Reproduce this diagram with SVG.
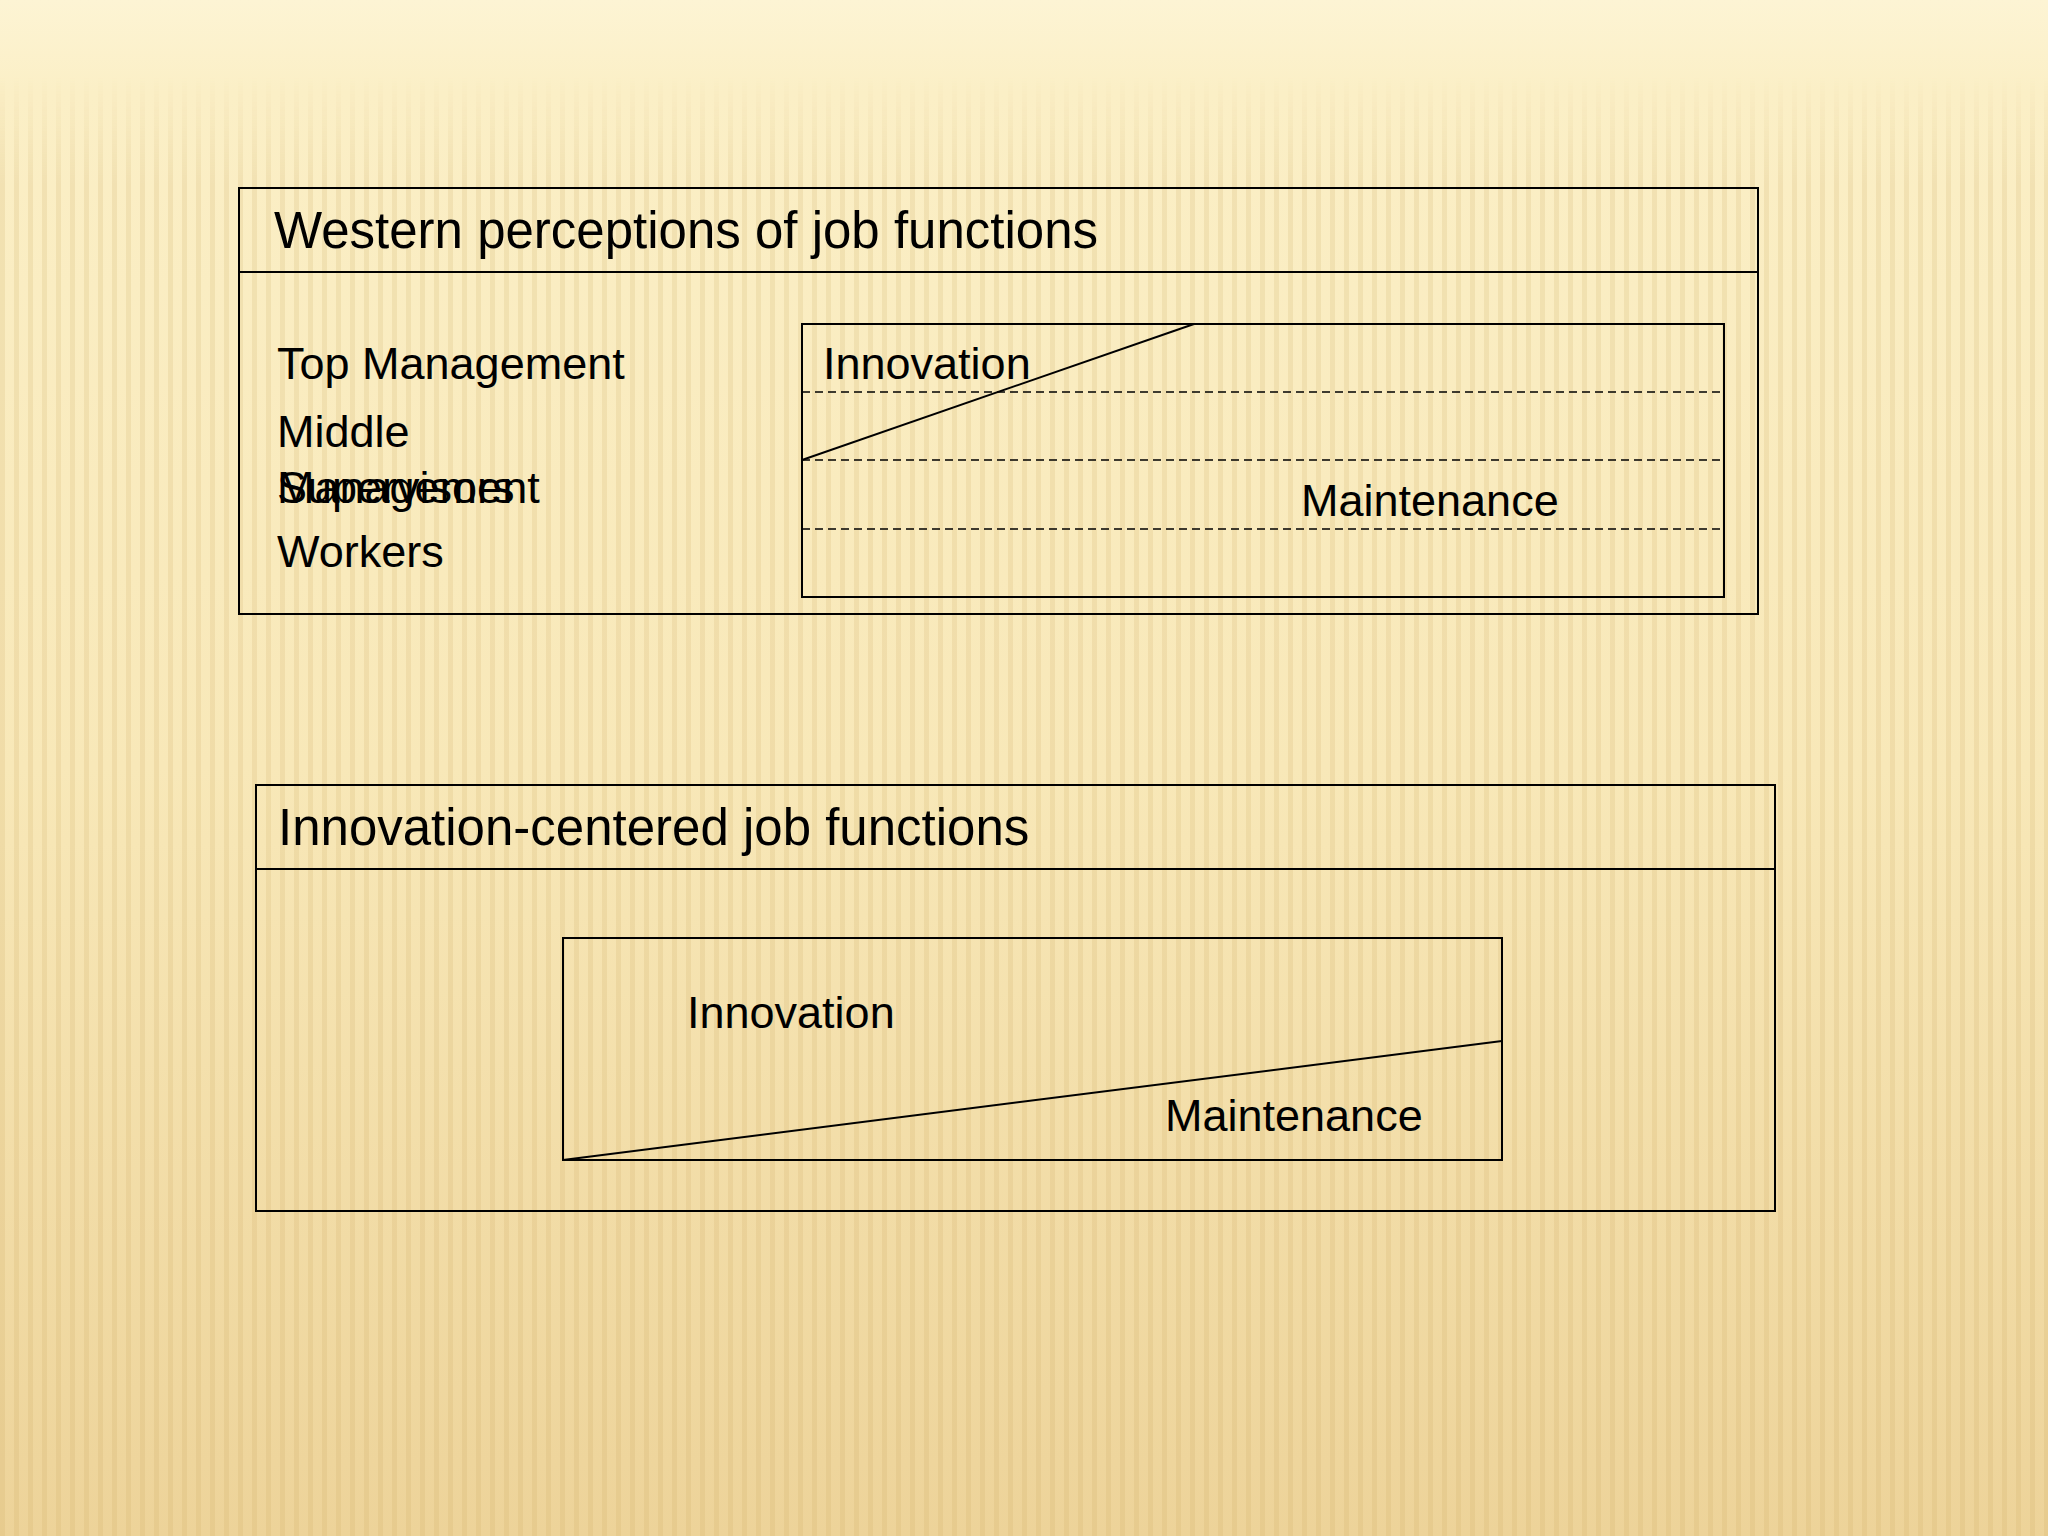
<svg xmlns="http://www.w3.org/2000/svg" width="2048" height="1536" viewBox="0 0 2048 1536">
<defs>
<linearGradient id="bg" x1="0" y1="0" x2="0" y2="1">
<stop offset="0" stop-color="#fdf4d4"/>
<stop offset="0.06" stop-color="#fbefc6"/>
<stop offset="0.5" stop-color="#f8e8b8"/>
<stop offset="1" stop-color="#edd399"/>
</linearGradient>
<linearGradient id="fade" x1="0" y1="0" x2="0" y2="1">
<stop offset="0" stop-color="#fff" stop-opacity="0"/>
<stop offset="0.05" stop-color="#fff" stop-opacity="0"/>
<stop offset="0.12" stop-color="#fff" stop-opacity="1"/>
<stop offset="1" stop-color="#fff" stop-opacity="1"/>
</linearGradient>
<pattern id="stripes" width="14" height="40" patternUnits="userSpaceOnUse">
<rect x="0" y="0" width="5" height="40" fill="#c9a555" opacity="0.16"/>
</pattern>
<mask id="m"><rect width="2048" height="1536" fill="url(#fade)"/></mask>
<style>
.box{fill:none;stroke:#000;stroke-width:2}
.dash{fill:none;stroke:#000;stroke-width:1.6;stroke-dasharray:8 5}
.ln{fill:none;stroke:#000;stroke-width:2}
.title{font-family:"Liberation Sans",Arial,sans-serif;font-size:51px;fill:#000}
.lbl{font-family:"Liberation Sans",Arial,sans-serif;font-size:45px;fill:#000}
</style>
</defs>
<rect width="2048" height="1536" fill="url(#bg)"/>
<rect width="2048" height="1536" fill="url(#stripes)" mask="url(#m)"/>

<g id="western">
<rect class="box" x="239" y="188" width="1519" height="426"/>
<line class="ln" x1="239" y1="272" x2="1758" y2="272"/>
<text class="title" x="274" y="248">Western perceptions of job functions</text>
<text class="lbl" x="277" y="379">Top Management</text>
<text class="lbl" x="277" y="447">Middle</text>
<text class="lbl" x="277" y="503">Management</text>
<text class="lbl" x="277" y="503">Supervisors</text>
<text class="lbl" x="277" y="567">Workers</text>
</g>

<g id="western-chart">
<rect class="box" x="802" y="324" width="922" height="273"/>
<line class="dash" x1="802" y1="392" x2="1724" y2="392"/>
<line class="dash" x1="802" y1="460" x2="1724" y2="460"/>
<line class="dash" x1="802" y1="529" x2="1724" y2="529"/>
<line class="ln" x1="802" y1="460" x2="1194" y2="324"/>
<text class="lbl" x="823" y="379">Innovation</text>
<text class="lbl" x="1301" y="516">Maintenance</text>
</g>

<g id="innovation-centered">
<rect class="box" x="256" y="785" width="1519" height="426"/>
<line class="ln" x1="256" y1="869" x2="1775" y2="869"/>
<text class="title" x="278" y="845">Innovation-centered job functions</text>
</g>

<g id="innovation-chart">
<rect class="box" x="563" y="938" width="939" height="222"/>
<line class="ln" x1="563" y1="1160" x2="1502" y2="1041"/>
<text class="lbl" x="687" y="1028">Innovation</text>
<text class="lbl" x="1165" y="1131">Maintenance</text>
</g>
</svg>
